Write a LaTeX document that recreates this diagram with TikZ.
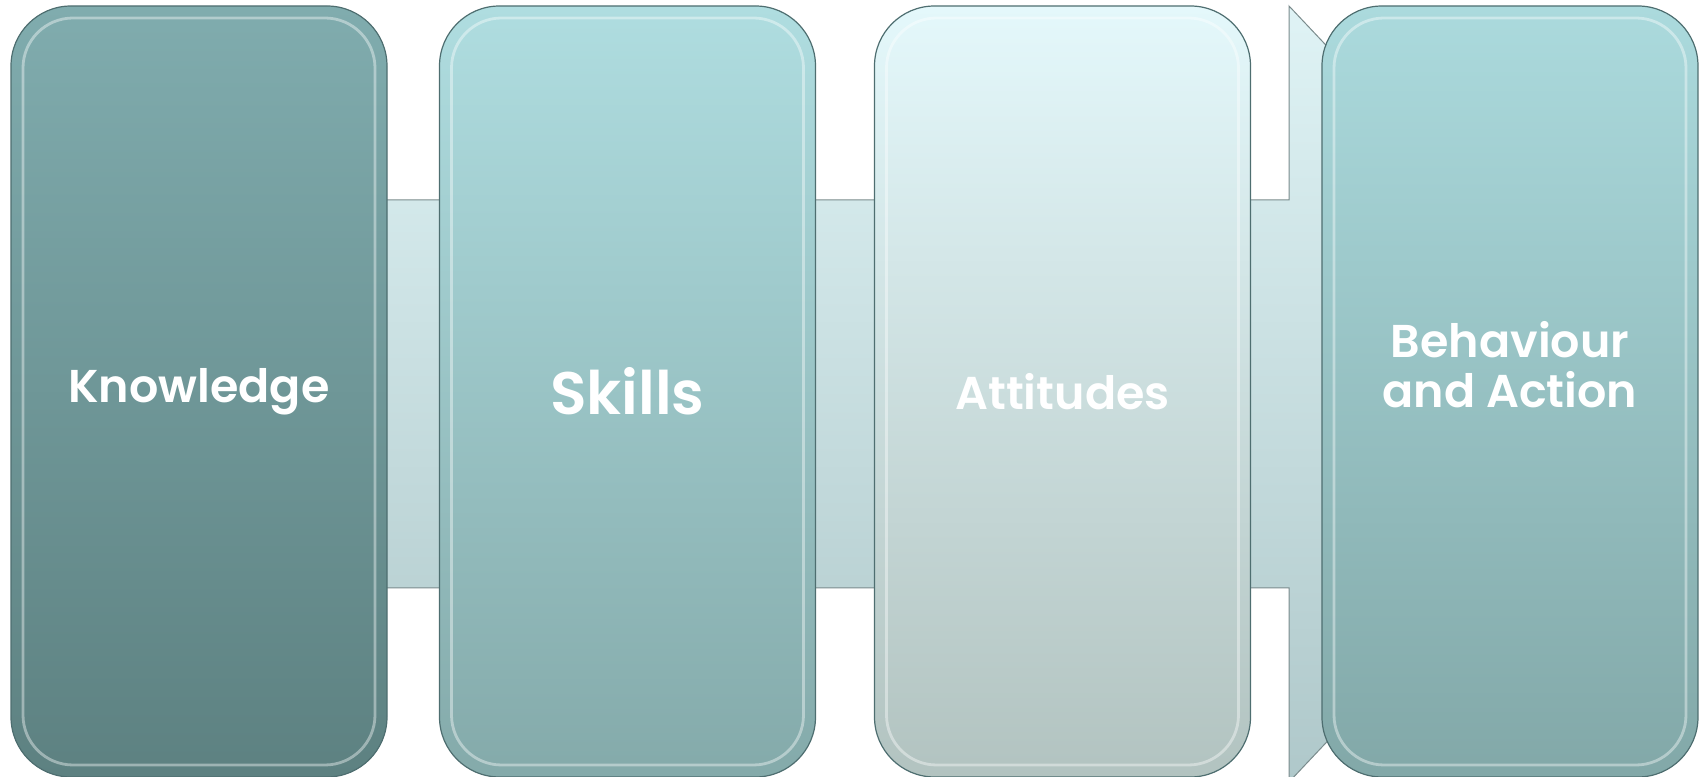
\documentclass[tikz,border=0pt]{standalone}
\usepackage{fontspec}
\setmainfont{Poppins}[BoldFont={Poppins SemiBold}]
\definecolor{bandtop}{HTML}{DFF3F5}
\definecolor{bandbot}{HTML}{AFC8CA}
\definecolor{rimline}{HTML}{4E6E70}
\tikzset{
  stage/.style={shape=rectangle, rounded corners=30pt, minimum width=188pt,
    minimum height=385.5pt, inner sep=0pt, outer sep=0pt, draw=rimline, line width=0.6pt},
  caption/.style={text=white, font=\bfseries\fontsize{23}{25}\selectfont, align=center},
  bevel/.style={draw=white, line width=1.4pt, opacity=0.4, rounded corners=25pt}
}
\begin{document}
\begin{tikzpicture}[x=0.5pt,y=0.5pt]
\useasboundingbox (0,0) rectangle (1699,777);
% block arrow behind the stages
\path[top color=bandtop, bottom color=bandbot, draw=bandbot!70!black, line width=0.5pt]
  (40,189) -- (40,577) -- (1289,577) -- (1289,771) -- (1655,383) -- (1289,-5) -- (1289,189) -- cycle;

\node[stage, top color={rgb,255:red,128;green,172;blue,174}, bottom color={rgb,255:red,93;green,129;blue,129}] (know) at (199,385.5) {};
\node[stage, top color={rgb,255:red,175;green,221;blue,224}, bottom color={rgb,255:red,132;green,170;blue,170}] (skill) at (627.5,385.5) {};
\node[stage, top color={rgb,255:red,228;green,248;blue,251}, bottom color={rgb,255:red,178;green,195;blue,192}] (attit) at (1062.5,385.5) {};
\node[stage, top color={rgb,255:red,171;green,218;blue,221}, bottom color={rgb,255:red,130;green,168;blue,168}] (behav) at (1510,385.5) {};

\foreach \n in {know,skill,attit,behav}
  \draw[bevel] ([shift={(6pt,6pt)}]\n.south west) rectangle ([shift={(-6pt,-6pt)}]\n.north east);

\node[caption] (knowtxt) at (know) {Knowledge};
\node[caption, font=\bfseries\fontsize{30}{33}\selectfont] (skilltxt) at (skill) {Skills};
\node[caption] (attittxt) at (attit) {Attitudes};
\node[caption] (behavtxt) at (1510,412) {Behaviour\\and Action};
\end{tikzpicture}
\end{document}
